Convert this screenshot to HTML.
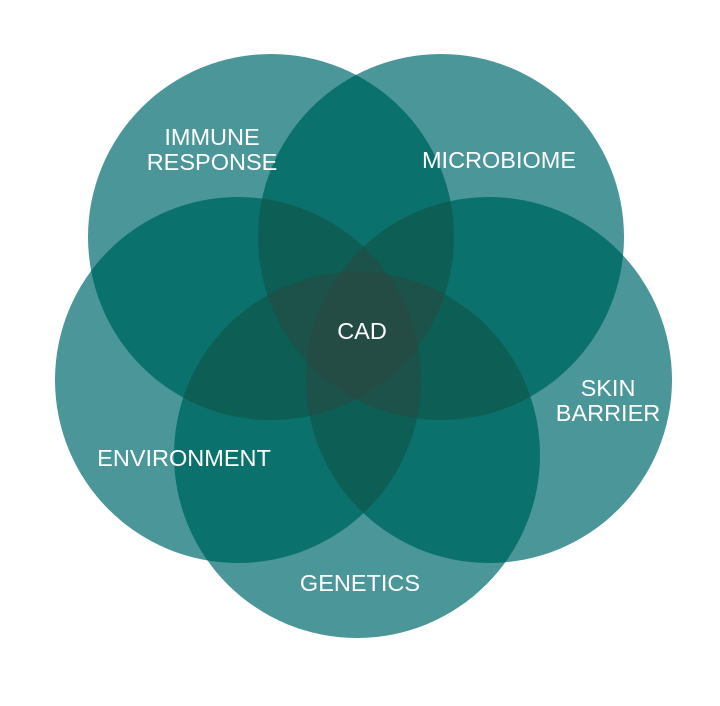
<!DOCTYPE html>
<html><head><meta charset="utf-8"><style>
html,body{margin:0;padding:0;background:#fff;}
svg{display:block;}
text{font-family:"Liberation Sans",sans-serif;fill:#fff;font-size:23.5px;text-anchor:middle;}
</style></head><body>
<svg width="720" height="706" viewBox="0 0 720 706" xmlns:xlink="http://www.w3.org/1999/xlink">
<defs>
<circle id="C0" cx="271" cy="237" r="183"/>
<circle id="C1" cx="441" cy="237" r="183"/>
<circle id="C2" cx="238" cy="380" r="183"/>
<circle id="C3" cx="489" cy="380" r="183"/>
<circle id="C4" cx="357" cy="455" r="183"/>
<clipPath id="k0"><use href="#C0"/></clipPath>
<clipPath id="k1"><use href="#C1"/></clipPath>
<clipPath id="k2"><use href="#C2"/></clipPath>
<clipPath id="k3"><use href="#C3"/></clipPath>
<clipPath id="k4"><use href="#C4"/></clipPath>
</defs>
<g fill="#4a9699">
<use href="#C0"/><use href="#C1"/><use href="#C2"/><use href="#C3"/><use href="#C4"/>
</g>
<g fill="#0b716c">
<g clip-path="url(#k0)"><use href="#C1"/><use href="#C2"/><use href="#C3"/><use href="#C4"/></g>
<g clip-path="url(#k1)"><use href="#C2"/><use href="#C3"/><use href="#C4"/></g>
<g clip-path="url(#k2)"><use href="#C3"/><use href="#C4"/></g>
<g clip-path="url(#k3)"><use href="#C4"/></g>
</g>
<g fill="#0d5e55">
<g clip-path="url(#k0)"><g clip-path="url(#k1)"><use href="#C2"/><use href="#C3"/><use href="#C4"/></g></g>
<g clip-path="url(#k0)"><g clip-path="url(#k2)"><use href="#C3"/><use href="#C4"/></g></g>
<g clip-path="url(#k0)"><g clip-path="url(#k3)"><use href="#C4"/></g></g>
<g clip-path="url(#k1)"><g clip-path="url(#k2)"><use href="#C3"/><use href="#C4"/></g></g>
<g clip-path="url(#k1)"><g clip-path="url(#k3)"><use href="#C4"/></g></g>
<g clip-path="url(#k2)"><g clip-path="url(#k3)"><use href="#C4"/></g></g>
</g>
<g fill="#1c5249">
<g clip-path="url(#k0)"><g clip-path="url(#k1)"><g clip-path="url(#k2)"><use href="#C3"/><use href="#C4"/></g></g></g>
<g clip-path="url(#k0)"><g clip-path="url(#k1)"><g clip-path="url(#k3)"><use href="#C4"/></g></g></g>
<g clip-path="url(#k0)"><g clip-path="url(#k2)"><g clip-path="url(#k3)"><use href="#C4"/></g></g></g>
<g clip-path="url(#k1)"><g clip-path="url(#k2)"><g clip-path="url(#k3)"><use href="#C4"/></g></g></g>
</g>
<g fill="#244b44">
<g clip-path="url(#k0)"><g clip-path="url(#k1)"><g clip-path="url(#k2)"><g clip-path="url(#k3)"><use href="#C4"/></g></g></g></g>
</g>
<text x="212" y="145">IMMUNE</text>
<text x="212" y="170">RESPONSE</text>
<text x="499" y="168">MICROBIOME</text>
<text x="608" y="396">SKIN</text>
<text x="608" y="421">BARRIER</text>
<text x="184" y="466">ENVIRONMENT</text>
<text x="360" y="591">GENETICS</text>
<text x="362" y="339">CAD</text>
</svg>
</body></html>
